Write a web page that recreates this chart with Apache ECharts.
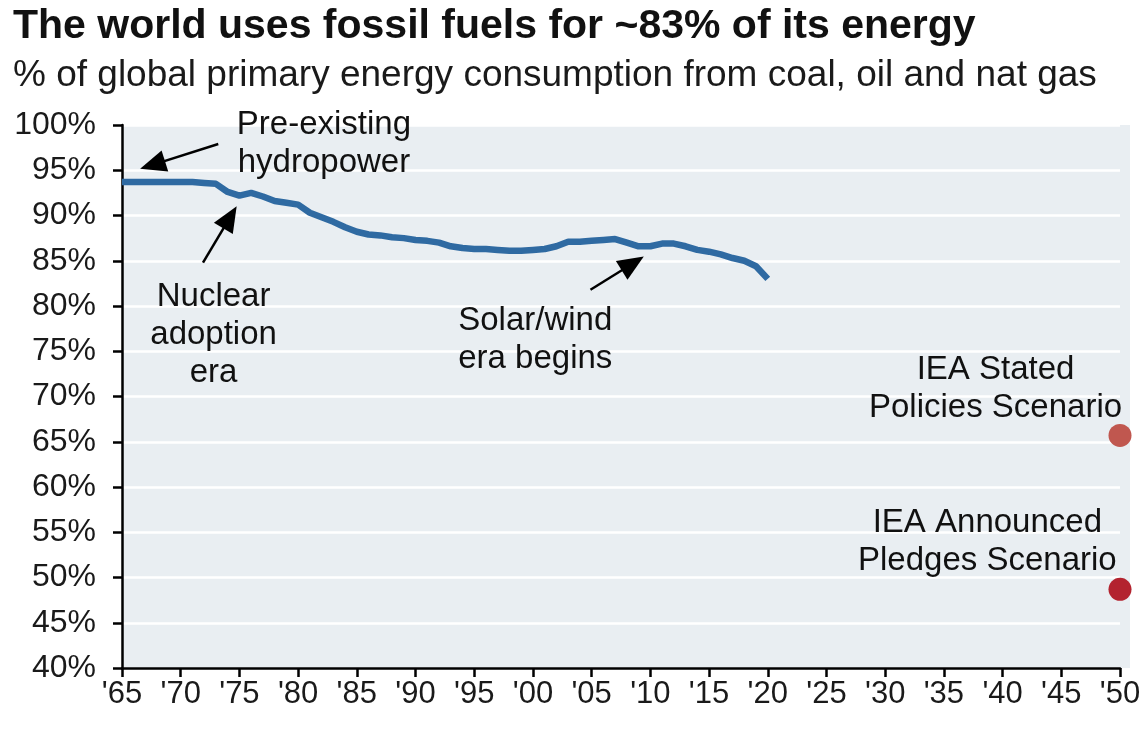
<!DOCTYPE html>
<html>
<head>
<meta charset="utf-8">
<script src="https://cdn.jsdelivr.net/npm/echarts@6/dist/echarts.min.js"></script>
<style>
  html, body { margin: 0; padding: 0; background: #fff; }
  #chart { width: 1148px; height: 729px; }
</style>
</head>
<body>
<div id="chart"></div>
<script>
var years = [1965, 1966, 1967, 1968, 1969, 1970, 1971, 1972, 1973, 1974, 1975, 1976, 1977, 1978, 1979,
  1980, 1981, 1982, 1983, 1984, 1985, 1986, 1987, 1988, 1989, 1990, 1991, 1992, 1993, 1994, 1995,
  1996, 1997, 1998, 1999, 2000, 2001, 2002, 2003, 2004, 2005, 2006, 2007, 2008, 2009, 2010, 2011,
  2012, 2013, 2014, 2015, 2016, 2017, 2018, 2019, 2020];
var fossilShare = [93.7, 93.7, 93.7, 93.7, 93.7, 93.7, 93.7, 93.6, 93.5, 92.6, 92.2, 92.5, 92.1, 91.6, 91.4,
  91.2, 90.3, 89.8, 89.3, 88.7, 88.2, 87.9, 87.8, 87.6, 87.5, 87.3, 87.2, 87.0, 86.6, 86.4, 86.3,
  86.3, 86.2, 86.1, 86.1, 86.2, 86.3, 86.6, 87.1, 87.1, 87.2, 87.3, 87.4, 87.0, 86.6, 86.6, 86.9,
  86.9, 86.6, 86.2, 86.0, 85.7, 85.3, 85.0, 84.4, 83.0];

// IEA scenarios for 2050
var scenarioNames = ["IEA Stated\nPolicies Scenario", "IEA Announced\nPledges Scenario"];
var scenarioYear = 2050;
var scenarioValues = [65.7, 48.7];
var scenarioColors = ["#c0574f", "#b3232f"];

// text notes placed in data space: [year, value, text]
var notes = [
  [1982.2, 97.9, "Pre-existing\nhydropower"],
  [1972.8, 76.8, "Nuclear\nadoption\nera"],
  [2000.2, 76.3, "Solar/wind\nera begins"],
  [2039.4, 70.8, scenarioNames[0]],
  [2038.7, 53.9, scenarioNames[1]]
];
// arrows: [tail, head centre]
var arrows = [
  [[1973.2, 97.9], [1967.6, 95.6]],
  [[1971.9, 84.8], [1974.2, 89.8]],
  [[2004.9, 81.8], [2008.5, 84.7]]
];

var yTicks = { min: 40, max: 100, step: 5 };
var xTicks = { min: 1965, max: 2050, step: 5 };

var chart = echarts.init(document.getElementById("chart"), null, { renderer: "canvas" });

var lineData = years.map(function (y, i) { return [y, fossilShare[i]]; });

var option = {
  backgroundColor: "#ffffff",
  animation: false,
  textStyle: { fontFamily: "Liberation Sans, Arial, sans-serif" },
  title: [
    {
      text: "The world uses fossil fuels for ~83% of its energy",
      left: 8,
      top: 1,
      textStyle: { fontSize: 41, fontWeight: "bold", color: "#111" }
    },
    {
      text: "% of global primary energy consumption from coal, oil and nat gas",
      left: 8,
      top: 52,
      textStyle: { fontSize: 37, fontWeight: "normal", color: "#1a1a1a" }
    }
  ],
  grid: {
    left: 122,
    right: 28,
    top: 125,
    bottom: 61,
    show: true,
    backgroundColor: "#e9eef2",
    borderWidth: 0
  },
  graphic: [
    {
      type: "rect",
      left: 1120,
      top: 125,
      shape: { width: 10, height: 543 },
      style: { fill: "#e9eef2" },
      z: -1,
      silent: true
    }
  ],
  xAxis: {
    type: "value",
    min: xTicks.min,
    max: xTicks.max,
    interval: xTicks.step,
    axisLine: { show: true, lineStyle: { color: "#000", width: 2.5 } },
    axisTick: { show: true, length: 9, lineStyle: { color: "#000", width: 2.5 } },
    axisLabel: {
      margin: 11,
      fontSize: 31,
      color: "#1a1a1a",
      formatter: function (v) { return "'" + String(v).slice(2); }
    },
    splitLine: { show: false }
  },
  yAxis: {
    type: "value",
    min: yTicks.min,
    max: yTicks.max,
    interval: yTicks.step,
    axisLine: { show: true, lineStyle: { color: "#000", width: 2.5 } },
    axisTick: { show: true, length: 9, lineStyle: { color: "#000", width: 2.5 } },
    axisLabel: {
      margin: 26,
      fontSize: 32,
      color: "#1a1a1a",
      formatter: "{value}%"
    },
    splitLine: { show: true, lineStyle: { color: "#ffffff", width: 2.5 } }
  },
  series: [
    {
      type: "line",
      name: "Fossil share",
      data: lineData,
      showSymbol: false,
      smooth: false,
      lineStyle: { color: "#2f6aa2", width: 6.5 },
      z: 3,
      markLine: {
        silent: true,
        symbol: ["none", "triangle"],
        symbolSize: [22, 26],
        label: { show: false },
        lineStyle: { color: "#000", width: 2.5, type: "solid" },
        itemStyle: { color: "#000" },
        data: arrows.map(function (a) {
          return [{ coord: a[0] }, { coord: a[1] }];
        })
      }
    },
    {
      type: "scatter",
      name: "IEA",
      symbolSize: 23,
      clip: false,
      z: 4,
      data: scenarioValues.map(function (v, i) {
        return { value: [scenarioYear, v], itemStyle: { color: scenarioColors[i], opacity: 1 } };
      })
    },
    {
      type: "scatter",
      name: "notes",
      symbolSize: 0,
      silent: true,
      clip: false,
      z: 5,
      itemStyle: { opacity: 1 },
      data: notes.map(function (n) { return [n[0], n[1]]; }),
      label: {
        show: true,
        position: "inside",
        align: "center",
        verticalAlign: "middle",
        fontSize: 33,
        lineHeight: 38,
        color: "#111",
        opacity: 1,
        textBorderWidth: 0,
        formatter: function (p) { return notes[p.dataIndex][2]; }
      }
    }
  ]
};

chart.setOption(option);
</script>
</body>
</html>
